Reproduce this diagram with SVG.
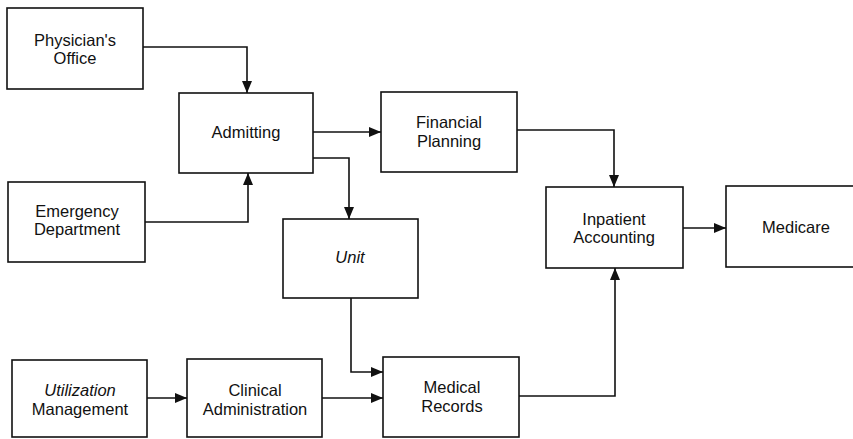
<svg xmlns="http://www.w3.org/2000/svg" width="853" height="439" viewBox="0 0 853 439">
<style>
.box{fill:#fff;stroke:#111;stroke-width:1.6}
.t{font-family:"Liberation Sans",Arial,sans-serif;font-size:16.5px;fill:#111;text-anchor:middle}
.i{font-style:italic}
.c{fill:none;stroke:#111;stroke-width:1.6}
</style>
<defs>
<marker id="ah" markerUnits="userSpaceOnUse" markerWidth="13" markerHeight="11" refX="12" refY="5" orient="auto">
<path d="M0,0 L12,5 L0,10 z" fill="#111"/>
</marker>
</defs>
<rect width="853" height="439" fill="#fff"/>
<g id="connectors">
<path class="c" d="M143,47 H247 V93" marker-end="url(#ah)"/>
<path class="c" d="M145,222 H248 V173" marker-end="url(#ah)"/>
<path class="c" d="M313,132 H381" marker-end="url(#ah)"/>
<path class="c" d="M313,158 H349 V219" marker-end="url(#ah)"/>
<path class="c" d="M517,130 H614 V187" marker-end="url(#ah)"/>
<path class="c" d="M683,228 H726" marker-end="url(#ah)"/>
<path class="c" d="M351,298 V372 H383" marker-end="url(#ah)"/>
<path class="c" d="M322,398 H383" marker-end="url(#ah)"/>
<path class="c" d="M519,396 H615 V268" marker-end="url(#ah)"/>
<path class="c" d="M147,398 H187" marker-end="url(#ah)"/>
</g>
<g id="physicians-office">
<rect class="box" x="7" y="8" width="136" height="81"/>
<text class="t" x="75" y="46">Physician's</text>
<text class="t" x="75" y="64">Office</text>
</g>
<g id="admitting">
<rect class="box" x="179" y="93" width="134" height="80"/>
<text class="t" x="246" y="138">Admitting</text>
</g>
<g id="financial-planning">
<rect class="box" x="381" y="92" width="136" height="80"/>
<text class="t" x="449" y="128">Financial</text>
<text class="t" x="449" y="147">Planning</text>
</g>
<g id="emergency-department">
<rect class="box" x="8" y="182" width="137" height="80"/>
<text class="t" x="77" y="217">Emergency</text>
<text class="t" x="77" y="235">Department</text>
</g>
<g id="unit">
<rect class="box" x="283" y="219" width="135" height="79"/>
<text class="t i" x="350" y="263">Unit</text>
</g>
<g id="inpatient-accounting">
<rect class="box" x="546" y="187" width="137" height="81"/>
<text class="t" x="614" y="225">Inpatient</text>
<text class="t" x="614" y="243">Accounting</text>
</g>
<g id="medicare">
<rect class="box" x="726" y="186" width="140" height="81"/>
<text class="t" x="796" y="233">Medicare</text>
</g>
<g id="utilization-management">
<rect class="box" x="12" y="360" width="135" height="77"/>
<text class="t i" x="80" y="396">Utilization</text>
<text class="t" x="80" y="415">Management</text>
</g>
<g id="clinical-administration">
<rect class="box" x="187" y="359" width="135" height="78"/>
<text class="t" x="255" y="396">Clinical</text>
<text class="t" x="255" y="415">Administration</text>
</g>
<g id="medical-records">
<rect class="box" x="383" y="357" width="136" height="80"/>
<text class="t" x="452" y="393">Medical</text>
<text class="t" x="452" y="412">Records</text>
</g>
</svg>
